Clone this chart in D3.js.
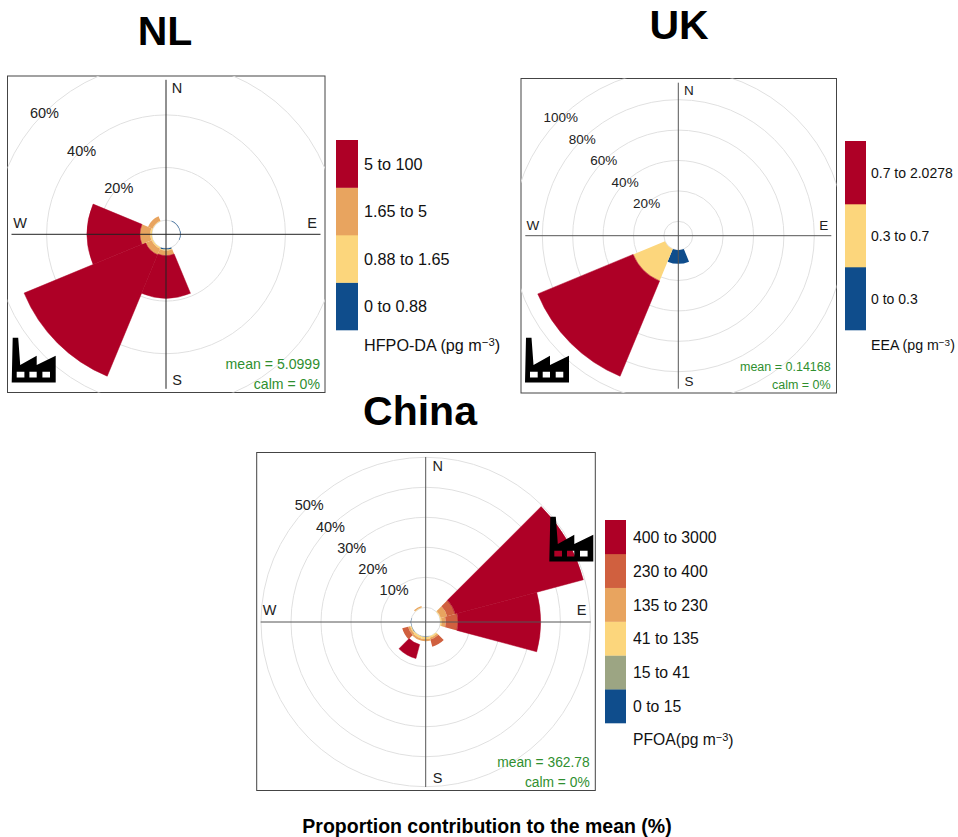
<!DOCTYPE html>
<html>
<head>
<meta charset="utf-8">
<script src="https://cdn.jsdelivr.net/npm/d3@7"></script>
<style>
  html, body { margin: 0; padding: 0; background: #fff; }
  text { font-family: "Liberation Sans", Arial, sans-serif; }
</style>
</head>
<body>
<svg id="chart" width="958" height="837"></svg>
<script>
// percent contribution per wind sector, one array per concentration band
const nlBearings = [0, 45, 90, 135, 180, 225, 270, 315];
const nlBlue = [0, 0.2, 0.2, 0, 0.4, 0, 0, 0];
const nlYellow = [0, 0, 0, 0, 0.4, 0.5, 0.6, 0.2];
const nlOrange = [0, 0, 0, 0, 1.9, 2.5, 3.9, 1.8];
const nlRed = [0, 0, 0, 0, 16.2, 50, 20.1, 0];
const nlBands = ['0 to 0.88', '0.88 to 1.65', '1.65 to 5', '5 to 100'];
const nlTicks = [20, 40, 60];

const ukBearings = [0, 45, 90, 135, 180, 225, 270, 315];
const ukBlue = [0, 0, 0, 0, 9, 0, 0, 0];
const ukYellow = [0, 0, 0, 0, 0, 22.7, 0, 0];
const ukRed = [0, 0, 0, 0, 0, 67.9, 0, 0];
const ukBands = ['0 to 0.3', '0.3 to 0.7', '0.7 to 2.0278'];
const ukTicks = [20, 40, 60, 80, 100];

const cnBearings = [0, 30, 60, 90, 120, 150, 180, 210, 240, 270, 300, 330];
const cnBlue = [0, 0, 0, 0, 0, 0, 0.1, 0.1, 0.1, 0.1, 0, 0];
const cnSage = [0, 0, 0, 0, 0, 0, 0, 0, 0, 0, 0, 0];
const cnYellow = [0, 0, 0.3, 0.4, 0, 0.5, 0.7, 0.7, 0.4, 0, 0, 0.2];
const cnOrange = [0, 0, 2.2, 1.4, 0, 0.6, 0.7, 0.7, 0.7, 0, 0, 0.4];
const cnTomato = [0, 0, 2.8, 4.1, 0, 2.5, 0, 0, 2, 0, 0, 0];
// the red block at 210 sits clear of the ring in the picture, this is the blank stretch
const cnGap = [0, 0, 0, 0, 0, 0, 0, 1.4, 0, 0, 0, 0];
const cnRed = [0, 0, 44.2, 27.5, 0, 0, 0, 4.8, 0, 0, 0, 0];
const cnBands = ['0 to 15', '15 to 41', '41 to 135', '135 to 230', '230 to 400', '400 to 3000'];
const cnTicks = [10, 20, 30, 40, 50];

const palette = {
  blue: '#0f4d8c',
  sage: '#9ca583',
  yellow: '#fcd67c',
  orange: '#e8a45f',
  tomato: '#d0603f',
  red: '#ae0026',
};

const svg = d3.select('#chart');

const clipId = (name) => `clip-${name}`;

const factoryPath = 'M1 0H6.5L8.5 27.3L25 18V27.3L44 18V44.7H0Z'
  + 'M5 34V39.7H12.7V34ZM17.7 34V39.7H25V34ZM30.7 34V39.7H38.3V34Z';

/**
 * Draws one polar frequency panel with its legend
 * @param {Object} c panel settings and band values
 */
const drawRose = (c) => {
  const g = svg.append('g');
  const r = d3.scaleLinear().domain([0, 100]).range([c.inner, c.inner + c.perPct * 100]);
  const arc = d3.arc();
  const rad = (deg) => (deg * Math.PI) / 180;

  g.append('clipPath').attr('id', clipId(c.name))
    .append('rect')
    .attr('x', c.box[0]).attr('y', c.box[1])
    .attr('width', c.box[2] - c.box[0]).attr('height', c.box[3] - c.box[1]);

  g.append('rect')
    .attr('x', c.box[0]).attr('y', c.box[1])
    .attr('width', c.box[2] - c.box[0]).attr('height', c.box[3] - c.box[1])
    .attr('fill', '#fff').attr('stroke', '#444').attr('stroke-width', 1);

  const plot = g.append('g')
    .attr('clip-path', `url(#${clipId(c.name)})`)
    .append('g')
    .attr('transform', `translate(${c.cx},${c.cy})`);

  // rings
  plot.selectAll('circle.ring').data([0].concat(c.ticks)).enter()
    .append('circle')
    .attr('class', 'ring')
    .attr('r', d => r(d))
    .attr('fill', 'none')
    .attr('stroke', '#e0e0e0')
    .attr('stroke-width', 1);

  // stacked wedges
  c.bearings.forEach((b, i) => {
    let sum = 0;
    c.series.forEach((s) => {
      const v = s.values[i];
      if (!v) return;
      if (s.color !== 'none') {
        plot.append('path')
          .attr('d', arc({
            innerRadius: r(sum),
            outerRadius: r(sum + v),
            startAngle: rad(b - c.width / 2),
            endAngle: rad(b + c.width / 2),
          }))
          .attr('fill', s.color)
          // closes the hairline between neighbouring red wedges
          .attr('stroke', s.color === palette.red ? s.color : 'none')
          .attr('stroke-width', 0.5);
      }
      sum += v;
    });
  });

  // axes
  plot.append('line')
    .attr('x1', 0).attr('x2', 0)
    .attr('y1', -c.axis).attr('y2', c.axis)
    .attr('stroke', c.axisColor).attr('stroke-width', 1);
  plot.append('line')
    .attr('x1', -c.axis).attr('x2', c.axis)
    .attr('y1', 0).attr('y2', 0)
    .attr('stroke', c.axisColor).attr('stroke-width', 1);

  // ring labels
  plot.selectAll('text.pct').data(c.ticks).enter()
    .append('text')
    .attr('class', 'pct')
    .attr('x', d => r(d) * Math.cos(rad(225)))
    .attr('y', d => r(d) * Math.sin(rad(225)))
    .attr('dy', c.pctDy)
    .attr('text-anchor', 'middle')
    .attr('font-size', c.labelSize)
    .attr('fill', '#222')
    .text(d => `${d}%`);

  // compass letters
  [['N', c.nudge, -c.compass], ['S', c.nudge, c.compass],
    ['W', -c.compass, -c.nudge], ['E', c.compass, -c.nudge]].forEach(([t, x, y]) => {
    plot.append('text')
      .attr('x', x).attr('y', y)
      .attr('dy', '0.35em')
      .attr('text-anchor', 'middle')
      .attr('font-size', c.labelSize)
      .attr('fill', '#222')
      .text(t);
  });

  // mean and calm
  [[c.mean, c.statY[0]], ['calm = 0%', c.statY[1]]].forEach(([t, y]) => {
    g.append('text')
      .attr('x', c.statX).attr('y', y)
      .attr('dy', '0.35em')
      .attr('text-anchor', 'end')
      .attr('font-size', c.statSize)
      .attr('fill', '#2f8f2f')
      .text(t);
  });

  // factory marker, the windows are holes
  g.append('path')
    .attr('transform', `translate(${c.factory[0]},${c.factory[1]})`)
    .attr('d', factoryPath)
    .attr('fill', '#000')
    .attr('fill-rule', 'evenodd');

  // title
  svg.append('text')
    .attr('x', c.titleAt[0]).attr('y', c.titleAt[1])
    .attr('dy', '0.35em')
    .attr('text-anchor', 'middle')
    .attr('font-size', 41)
    .attr('font-weight', 'bold')
    .attr('fill', '#000')
    .text(c.name);

  // legend, first band at the bottom
  const keys = c.series.filter(s => s.color !== 'none');
  const y = d3.scaleBand()
    .domain(d3.range(c.bands.length))
    .range([c.legend.y1, c.legend.y0]);
  const legend = svg.append('g');
  legend.selectAll('rect').data(c.bands).enter()
    .append('rect')
    .attr('x', c.legend.x)
    .attr('y', (d, i) => y(i))
    .attr('width', c.legend.w)
    .attr('height', y.bandwidth() + 0.3)
    .attr('fill', (d, i) => keys[i].color);
  legend.selectAll('text.band').data(c.bands).enter()
    .append('text')
    .attr('class', 'band')
    .attr('x', c.legend.x + c.legend.w + c.legend.pad)
    .attr('y', (d, i) => y(i) + y.bandwidth() / 2)
    .attr('dy', '0.38em')
    .attr('font-size', c.legend.size)
    .attr('fill', '#111')
    .text(d => d);

  const title = legend.append('text')
    .attr('x', c.legend.x + c.legend.w + c.legend.pad)
    .attr('y', c.legend.titleY)
    .attr('dy', '0.35em')
    .attr('font-size', c.legend.titleSize)
    .attr('fill', '#111');
  title.append('tspan').text(c.legend.title);
  title.append('tspan').attr('dy', '-0.4em').attr('font-size', c.legend.titleSize * 0.7).text('\u22123');
  title.append('tspan').attr('dy', '0.3em').text(')');
};

drawRose({
  name: 'NL',
  cx: 166, cy: 234.3, inner: 14.2, perPct: 2.63,
  box: [7.5, 76, 325, 392.5], axis: 154.5, compass: 146, nudge: 11, axisColor: '#222',
  bearings: nlBearings, width: 45, ticks: nlTicks, labelSize: 14.5, pctDy: '0.4em',
  series: [
    { values: nlBlue, color: palette.blue },
    { values: nlYellow, color: palette.yellow },
    { values: nlOrange, color: palette.orange },
    { values: nlRed, color: palette.red },
  ],
  bands: nlBands,
  mean: 'mean = 5.0999', statX: 320, statY: [364, 384], statSize: 14.1,
  factory: [11.7, 337.7],
  titleAt: [165, 31],
  legend: { x: 336, w: 22, y0: 140, y1: 330, pad: 6, size: 16.2, title: 'HFPO-DA (pg m', titleY: 345, titleSize: 16.2 },
});

drawRose({
  name: 'UK',
  cx: 678.3, cy: 235.7, inner: 14.4, perPct: 1.52,
  box: [521, 78.5, 836.5, 393], axis: 153, compass: 145.5, nudge: 10.7, axisColor: '#555',
  bearings: ukBearings, width: 45, ticks: ukTicks, labelSize: 13.5, pctDy: '0.33em',
  series: [
    { values: ukBlue, color: palette.blue },
    { values: ukYellow, color: palette.yellow },
    { values: ukRed, color: palette.red },
  ],
  bands: ukBands,
  mean: 'mean = 0.14168', statX: 830.7, statY: [367, 385], statSize: 12.5,
  factory: [525, 337.7],
  titleAt: [679, 25],
  legend: { x: 845, w: 21, y0: 141, y1: 330, pad: 5, size: 14, title: 'EEA (pg m', titleY: 345, titleSize: 14.2 },
});

drawRose({
  name: 'China',
  cx: 425.7, cy: 622, inner: 14.7, perPct: 3,
  box: [256.7, 452.5, 595.3, 790.5], axis: 165, compass: 156, nudge: 12, axisColor: '#555',
  bearings: cnBearings, width: 30, ticks: cnTicks, labelSize: 14.5, pctDy: '0.33em',
  series: [
    { values: cnBlue, color: palette.blue },
    { values: cnSage, color: palette.sage },
    { values: cnYellow, color: palette.yellow },
    { values: cnOrange, color: palette.orange },
    { values: cnTomato, color: palette.tomato },
    { values: cnGap, color: 'none' },
    { values: cnRed, color: palette.red },
  ],
  bands: cnBands,
  mean: 'mean = 362.78', statX: 589.7, statY: [761.7, 781.7], statSize: 13.8,
  factory: [549.3, 516.7],
  titleAt: [420, 411],
  legend: { x: 605, w: 21, y0: 520, y1: 723, pad: 7, size: 15.8, title: 'PFOA(pg m', titleY: 740, titleSize: 15.7 },
});

svg.append('text')
  .attr('x', 487).attr('y', 826)
  .attr('dy', '0.35em')
  .attr('text-anchor', 'middle')
  .attr('font-size', 19.5)
  .attr('font-weight', 'bold')
  .attr('fill', '#000')
  .text('Proportion contribution to the mean (%)');
</script>
</body>
</html>
